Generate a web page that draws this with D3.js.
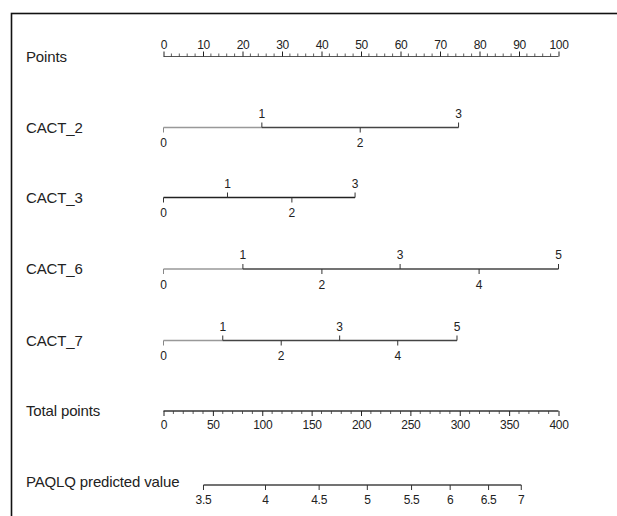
<!DOCTYPE html>
<html><head><meta charset="utf-8">
<script src="https://cdn.jsdelivr.net/npm/d3@7/dist/d3.min.js"></script>
<style>
html,body{margin:0;padding:0;background:#fff;}
svg text{font-family:"Liberation Sans",Arial,sans-serif;fill:#222;}
</style></head>
<body><div id="chart"></div>
<script>
// Points scale
const pointsTicks = [0,10,20,30,40,50,60,70,80,90,100];
// Variable levels and their points
const cact2Levels = [0,1,2,3];
const cact2Points = [0,24.9,49.8,74.7];
const cact3Levels = [0,1,2,3];
const cact3Points = [0,16.2,32.5,48.5];
const cact6Levels = [0,1,2,3,4,5];
const cact6Points = [0,20.1,40.1,59.9,79.9,100];
const cact7Levels = [0,1,2,3,4,5];
const cact7Points = [0,15.0,29.8,44.6,59.3,74.3];
// Total points scale
const totalTicks = [0,50,100,150,200,250,300,350,400];
// PAQLQ predicted value and corresponding total points
const paqlqValues = ["3.5","4","4.5","5","5.5","6","6.5","7"];
const paqlqTotal = [40.5,103.3,157.6,206.4,251.2,290.3,329.2,362.3];

const W=617,H=516;
const svg=d3.select("#chart").append("svg").attr("width",W).attr("height",H);

// frame
svg.append("rect").attr("x",11.5).attr("y",13.5).attr("width",W+20).attr("height",H+20)
  .attr("fill","none").attr("stroke","#111").attr("stroke-width",1.6);

const x=d3.scaleLinear().domain([0,100]).range([163.5,558.5]);
const xt=d3.scaleLinear().domain([0,400]).range([163.5,558.5]);

const labelX=26;
const FS_LAB=15, FS_TICK=12;
function rowLabel(txt,y){
  svg.append("text").attr("x",labelX).attr("y",y).attr("dy","0.35em")
    .attr("font-size",FS_LAB).attr("letter-spacing","-0.15px").text(txt);
}

// Points axis (ticks up, labels above)
const yP=56.5;
rowLabel("Points",yP);
{
  const g=svg.append("g").attr("transform",`translate(0,${yP})`);
  const ax=d3.axisTop(x).tickValues(pointsTicks).tickSize(5).tickSizeOuter(0).tickPadding(3);
  g.call(ax);
  const minor=d3.range(0,101,2).filter(v=>v%10!==0);
  g.selectAll("line.minor").data(minor).enter().append("line").attr("class","minor")
    .attr("x1",d=>x(d)).attr("x2",d=>x(d)).attr("y1",0).attr("y2",-3)
    .attr("stroke","#333").attr("stroke-width",0.8);
  g.select(".domain").attr("stroke","#555").attr("stroke-width",1.2).attr("d",`M${x(0)},0H${x(100)}`);
  g.selectAll(".tick line").attr("stroke","#222");
  g.selectAll(".tick text").attr("font-size",FS_TICK).attr("letter-spacing","-0.3px").attr("fill","#222");
}

// variable rows
const rows=[
  {name:"CACT_2",y:127.5,lv:cact2Levels,pt:cact2Points,light:true},
  {name:"CACT_3",y:197.5,lv:cact3Levels,pt:cact3Points,light:false},
  {name:"CACT_6",y:269,lv:cact6Levels,pt:cact6Points,light:true},
  {name:"CACT_7",y:340.5,lv:cact7Levels,pt:cact7Points,light:true}
];
rows.forEach(r=>{
  rowLabel(r.name,r.y);
  const g=svg.append("g").attr("transform",`translate(0,${r.y})`);
  const n=r.pt.length;
  if(r.light){
    g.append("line").attr("x1",x(r.pt[0])).attr("x2",x(r.pt[1])).attr("y1",0).attr("y2",0)
      .attr("stroke","#999").attr("stroke-width",1.3);
    g.append("line").attr("x1",x(r.pt[1])).attr("x2",x(r.pt[n-1])).attr("y1",0).attr("y2",0)
      .attr("stroke","#444").attr("stroke-width",1.3);
  } else {
    g.append("line").attr("x1",x(r.pt[0])).attr("x2",x(r.pt[n-1])).attr("y1",0).attr("y2",0)
      .attr("stroke","#222").attr("stroke-width",1.3);
  }
  r.lv.forEach((lv,i)=>{
    const up=lv%2===1;
    const xx=x(r.pt[i]);
    g.append("line").attr("x1",xx).attr("x2",xx).attr("y1",0).attr("y2",up?-5:5)
      .attr("stroke",i===0&&r.light?"#888":"#333").attr("stroke-width",1);
    g.append("text").attr("x",xx).attr("y",up?-14:15.5).attr("dy","0.35em")
      .attr("text-anchor","middle").attr("font-size",FS_TICK).text(lv);
  });
});

// Total points (ticks down, labels below)
const yT=411;
rowLabel("Total points",yT);
{
  const g=svg.append("g").attr("transform",`translate(0,${yT})`);
  const ax=d3.axisBottom(xt).tickValues(totalTicks).tickSize(5).tickSizeOuter(0).tickPadding(4);
  g.call(ax);
  const minor=d3.range(0,401,10).filter(v=>v%50!==0);
  g.selectAll("line.minor").data(minor).enter().append("line").attr("class","minor")
    .attr("x1",d=>xt(d)).attr("x2",d=>xt(d)).attr("y1",0).attr("y2",3)
    .attr("stroke","#333").attr("stroke-width",0.8);
  g.select(".domain").attr("stroke","#333").attr("stroke-width",1.3).attr("d",`M${xt(0)},0H${xt(400)}`);
  g.selectAll(".tick line").attr("stroke","#222");
  g.selectAll(".tick text").attr("font-size",FS_TICK).attr("letter-spacing","-0.3px").attr("fill","#222");
}

// PAQLQ predicted value
const yQ=485;
rowLabel("PAQLQ predicted value",yQ-3);
{
  const g=svg.append("g").attr("transform",`translate(0,${yQ})`);
  const first=xt(paqlqTotal[0]), last=xt(paqlqTotal[paqlqTotal.length-1]);
  g.append("line").attr("x1",first).attr("x2",last).attr("y1",0).attr("y2",0)
    .attr("stroke","#444").attr("stroke-width",1.3);
  paqlqTotal.forEach((t,i)=>{
    const xx=xt(t);
    g.append("line").attr("x1",xx).attr("x2",xx).attr("y1",0).attr("y2",5)
      .attr("stroke","#333").attr("stroke-width",1);
    g.append("text").attr("x",xx).attr("y",15).attr("dy","0.35em").attr("text-anchor","middle")
      .attr("font-size",FS_TICK).attr("letter-spacing","-0.3px").text(paqlqValues[i]);
  });
}
</script></body></html>
